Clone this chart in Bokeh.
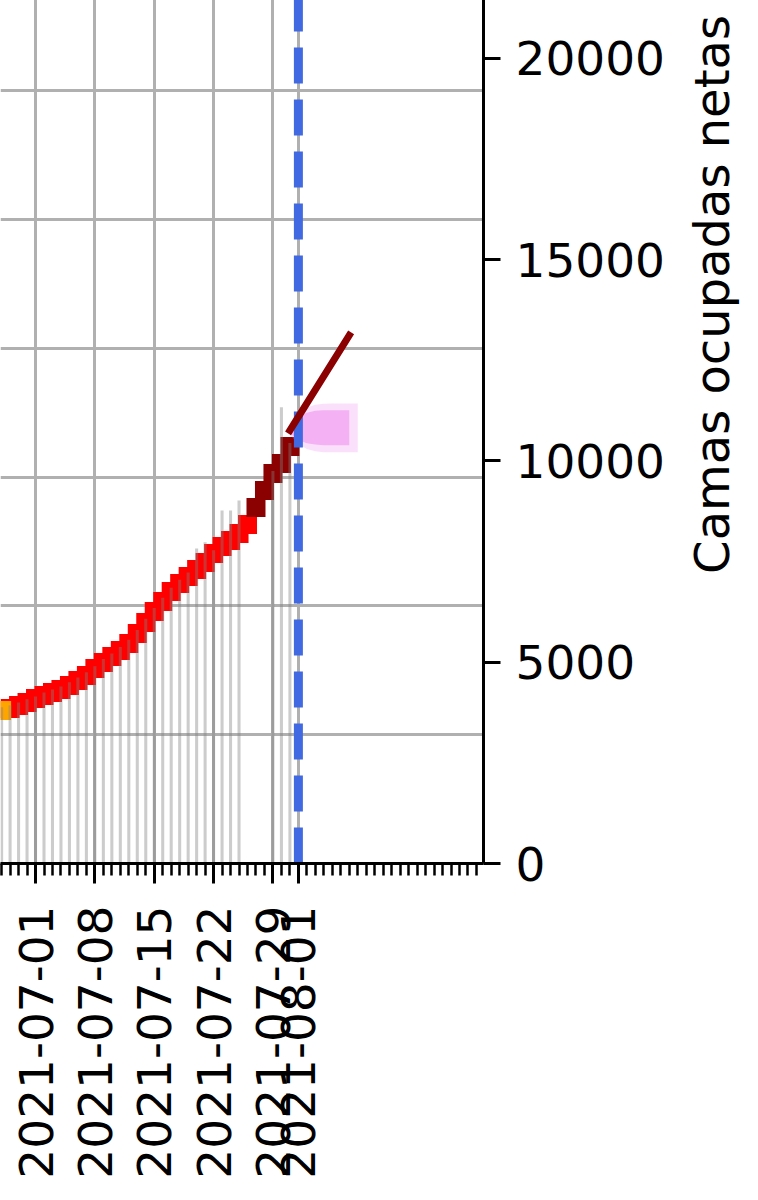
import math
import pandas as pd
from bokeh.plotting import figure
from bokeh.layouts import row
from bokeh.models import FixedTicker, DatetimeTickFormatter, Range1d
from bokeh.embed import file_html
from bokeh.resources import INLINE

# ---------------- data ----------------
orange_dates = ["2021-06-27"]
orange_vals = [3801]

red_dates = list(pd.date_range("2021-06-28", "2021-07-26").strftime("%Y-%m-%d"))
red_vals = [3851, 3925, 4000, 4099, 4174, 4248, 4323, 4422, 4547, 4671,
            4845, 4994, 5143, 5292, 5466, 5714, 5988, 6261, 6509, 6758,
            6957, 7130, 7304, 7478, 7702, 7876, 8025, 8199, 8422]

darkred_dates = ["2021-07-27", "2021-07-28", "2021-07-29", "2021-07-30", "2021-07-31"]
darkred_vals = [8845, 9267, 9689, 9938, 10360]

bar_dates = list(pd.date_range("2021-06-27", "2021-07-25").strftime("%Y-%m-%d")) + \
    ["2021-07-29", "2021-07-30", "2021-07-31"]
bar_vals = [3880, 3930, 4000, 4080, 4150, 4250, 4320, 4400, 4500, 4620,
            4750, 4900, 5080, 5220, 5380, 5560, 5800, 6080, 6350, 6600,
            6850, 7050, 7230, 7826, 7983, 7780, 8770, 8770, 9019,
            9750, 11336, 10450]

proj_dates = ["2021-07-31", "2021-08-07"]
proj_vals = [10760, 13120]

fan_dates = ["2021-07-31", "2021-08-01", "2021-08-02", "2021-08-03", "2021-08-04",
             "2021-08-05", "2021-08-06", "2021-08-07", "2021-08-08"]
fan_outer_lo = [10650, 10420, 10300, 10240, 10220, 10220, 10220, 10220, 10220]
fan_outer_hi = [10950, 11200, 11330, 11400, 11420, 11430, 11430, 11430, 11430]
fan_inner_lo = [10700, 10520, 10440, 10410, 10390, 10390, 10390, 10390, 10390]
fan_inner_hi = [10900, 11080, 11200, 11250, 11260, 11260, 11260, 11260, 11260]

forecast_start = "2021-08-01"

x_tick_labels = ["2021-07-01", "2021-07-08", "2021-07-15", "2021-07-22", "2021-07-29", "2021-08-01"]
y_ticks = [0, 5000, 10000, 15000, 20000]
y_label = "Camas ocupadas netas"
left_grid_step = 3200

# ---------------- helpers ----------------
def ms(s):
    return pd.Timestamp(s).value // 10**6

DAY = 86400000
t0 = ms("2021-07-01")
x_start = t0 - 4.13 * DAY
x_end = t0 + 52.83 * DAY
y_end = 28273

FONT = "DejaVu Sans"
FS = "47px"
FIG_H = 1467
BOTTOM = 329
TOP_SHIFT = -275

fig = figure(width=680, height=FIG_H, x_axis_type="datetime", y_axis_location="right",
             x_range=Range1d(x_start, x_end), y_range=Range1d(0, y_end),
             output_backend="svg", toolbar_location=None,
             min_border_left=0, min_border_right=197, min_border_top=0, min_border_bottom=BOTTOM)
fig.margin = (TOP_SHIFT, 0, 0, 0)
fig.outline_line_color = None
fig.background_fill_color = "white"
fig.border_fill_color = "white"

# x axis
xa = fig.xaxis[0]
minor = [ms(d) for d in pd.date_range("2021-06-26", "2021-08-22")]
xa.ticker = FixedTicker(ticks=[ms(d) for d in x_tick_labels], minor_ticks=minor)
fmt = "%Y-%m-%d"
xa.formatter = DatetimeTickFormatter(days=fmt, months=fmt, years=fmt, hours=fmt,
                                     hourmin=fmt, minutes=fmt, minsec=fmt, seconds=fmt,
                                     milliseconds=fmt, microseconds=fmt)
xa.major_label_orientation = math.pi / 2
xa.major_label_text_font = FONT
xa.major_label_text_font_size = FS
xa.major_label_text_color = "black"
xa.major_label_standoff = 22
xa.axis_line_width = 3
xa.axis_line_color = "black"
xa.major_tick_line_width = 3
xa.major_tick_out = 20
xa.major_tick_in = 0
xa.minor_tick_line_width = 2.5
xa.minor_tick_out = 12
xa.minor_tick_in = 0

# y axis (right)
ya = fig.yaxis[0]
ya.ticker = FixedTicker(ticks=y_ticks)
ya.minor_tick_line_color = None
ya.major_tick_out = 17
ya.major_tick_in = 0
ya.major_tick_line_width = 3
ya.axis_line_width = 3
ya.axis_line_color = "black"
ya.major_label_standoff = 15
ya.major_label_text_font = FONT
ya.major_label_text_font_size = FS
ya.major_label_text_color = "black"

# grids
fig.xgrid.grid_line_color = "#b0b0b0"
fig.xgrid.grid_line_width = 3
fig.ygrid.ticker = FixedTicker(ticks=[left_grid_step * k for k in range(1, 9)])
fig.ygrid.grid_line_color = "#b0b0b0"
fig.ygrid.grid_line_width = 3

# marks
td = lambda lst: pd.to_datetime(lst)
fig.scatter(x=td(red_dates), y=red_vals, marker="square", size=19,
            fill_color="#ff0000", line_color=None)
fig.scatter(x=td(orange_dates), y=orange_vals, marker="square", size=19,
            fill_color="#ffa500", line_color=None)
fig.scatter(x=td(darkred_dates), y=darkred_vals, marker="square", size=19,
            fill_color="#8b0000", line_color=None)

fig.vbar(x=td(bar_dates), top=bar_vals, bottom=0, width=0.36 * DAY,
         fill_color="#808080", fill_alpha=0.4, line_color=None)

fig.varea(x=td(fan_dates), y1=fan_outer_lo, y2=fan_outer_hi, fill_color="violet", fill_alpha=0.25)
fig.varea(x=td(fan_dates[:-1]), y1=fan_inner_lo[:-1], y2=fan_inner_hi[:-1],
          fill_color="violet", fill_alpha=0.5)

fig.segment(x0=td([forecast_start]), y0=[0], x1=td([forecast_start]), y1=[y_end],
            line_color="#4169e1", line_width=9, line_dash="36 16")

fig.line(x=td(proj_dates), y=proj_vals, line_color="#8b0000", line_width=7, line_cap="square")

# right-hand axis title, reading bottom-to-top: a bare left axis of a narrow strip
# that has exactly the same height, margins and frame as the main figure
ttl = figure(width=70, height=FIG_H, x_range=Range1d(0, 1), y_range=Range1d(0, 1),
             x_axis_location=None, y_axis_location="left",
             output_backend="svg", toolbar_location=None,
             min_border_left=0, min_border_right=0, min_border_top=0, min_border_bottom=BOTTOM)
ttl.margin = (TOP_SHIFT, 0, 0, 0)
ttl.outline_line_color = None
ttl.background_fill_color = None
ttl.border_fill_color = None
ttl.grid.visible = False
ta = ttl.yaxis[0]
ta.ticker = FixedTicker(ticks=[])
ta.axis_line_color = None
ta.major_tick_line_color = None
ta.minor_tick_line_color = None
ta.major_tick_out = 0
ta.major_tick_in = 0
ta.major_label_standoff = 0
ta.axis_label = y_label
ta.axis_label_text_font = FONT
ta.axis_label_text_font_size = "48px"
ta.axis_label_text_font_style = "normal"
ta.axis_label_text_color = "black"
ta.axis_label_standoff = 0

p = row(fig, ttl)

open("out.html", "w").write(file_html(p, INLINE))
